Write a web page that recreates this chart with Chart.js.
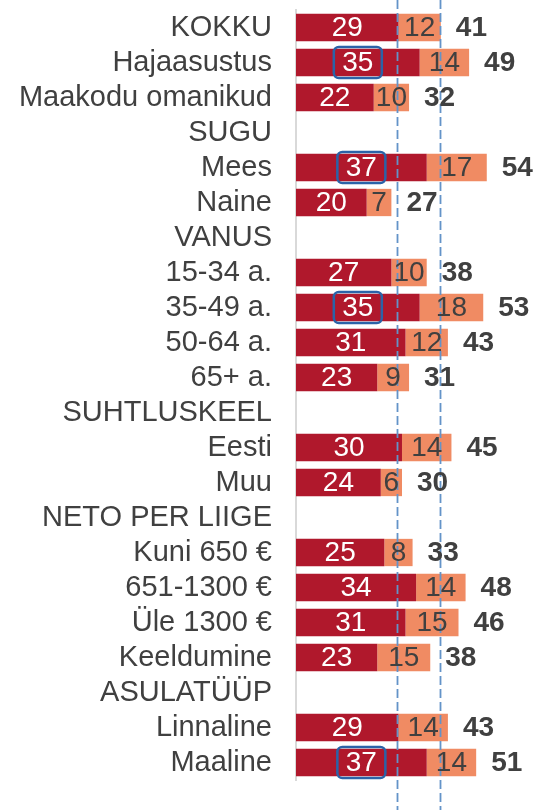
<!DOCTYPE html>
<html>
<head>
<meta charset="utf-8">
<script src="https://cdn.jsdelivr.net/npm/chart.js@4/dist/chart.umd.min.js"></script>
<style>
body{margin:0;background:#fff;}
#wrap{width:538px;height:810px;position:relative;}
</style>
</head>
<body>
<div id="wrap"><canvas id="chart"></canvas></div>
<script>
const categories=["KOKKU","Hajaasustus","Maakodu omanikud","SUGU","Mees","Naine","VANUS","15-34 a.","35-49 a.","50-64 a.","65+ a.","SUHTLUSKEEL","Eesti","Muu","NETO PER LIIGE","Kuni 650 €","651-1300 €","Üle 1300 €","Keeldumine","ASULATÜÜP","Linnaline","Maaline"];
const mainValues=[29,35,22,null,37,20,null,27,35,31,23,null,30,24,null,25,34,31,23,null,29,37];
const extraValues=[12,14,10,null,17,7,null,10,18,12,9,null,14,6,null,8,14,15,15,null,14,14];
const totals=[41,49,32,null,54,27,null,38,53,43,31,null,45,30,null,33,48,46,38,null,43,51];
const referenceLines=[29,41];
const highlighted=["Hajaasustus","Mees","35-49 a.","Maaline"];

const RED="#b0182c";
const ORANGE="#f08b63";
const TEXT="#404040";
const FONT="'Liberation Sans', Arial, sans-serif";

const overlay={
id:"overlay",
afterDatasetsDraw(chart){
const ctx=chart.ctx;
const x=chart.scales.x;

// reference lines
ctx.save();
ctx.strokeStyle="#6393c8";
ctx.lineWidth=1.8;
ctx.setLineDash([9,4]);
referenceLines.forEach(v=>{
let px=Math.round(x.getPixelForValue(v))-0.5;
ctx.beginPath();
ctx.moveTo(px,0);
ctx.lineTo(px,chart.height);
ctx.stroke();
});
ctx.restore();

// segment labels
ctx.save();
ctx.font="28px "+FONT;
ctx.textAlign="center";
ctx.textBaseline="middle";
chart.data.datasets.forEach((ds,di)=>{
let meta=chart.getDatasetMeta(di);
meta.data.forEach((bar,i)=>{
let v=ds.data[i];
if(v==null) return;
ctx.fillStyle=di===0?"#ffffff":TEXT;
ctx.fillText(v,(bar.x+bar.base)/2,bar.y+1);
});
});

// highlight boxes
let m0=chart.getDatasetMeta(0);
ctx.strokeStyle="#2b63a8";
ctx.lineWidth=2.5;
highlighted.forEach(name=>{
let i=categories.indexOf(name);
let bar=m0.data[i];
let cx=(bar.x+bar.base)/2;
ctx.beginPath();
ctx.roundRect(cx-24,bar.y-15.5,48,31,5);
ctx.stroke();
});

// totals
let m1=chart.getDatasetMeta(1);
ctx.font="bold 28px "+FONT;
ctx.textAlign="left";
ctx.fillStyle=TEXT;
totals.forEach((t,i)=>{
if(t==null) return;
let bar=m1.data[i];
ctx.fillText(t,bar.x+15,bar.y+1);
});
ctx.restore();
}
};

new Chart(document.getElementById("chart"),{
type:"bar",
data:{
labels:categories,
datasets:[
{data:mainValues,backgroundColor:RED,barPercentage:0.78,categoryPercentage:1},
{data:extraValues,backgroundColor:ORANGE,barPercentage:0.78,categoryPercentage:1}
]
},
options:{
indexAxis:"y",
responsive:true,
maintainAspectRatio:false,
animation:false,
layout:{padding:{top:10,bottom:30,right:0,left:0}},
plugins:{legend:{display:false},tooltip:{enabled:false}},
scales:{
x:{stacked:true,display:false,min:0,max:68.5},
y:{
stacked:true,
grid:{display:false,drawTicks:false},
border:{display:true,color:"#d9d9d9",width:2},
ticks:{color:TEXT,padding:24,font:{family:FONT,size:29},autoSkip:false},
afterFit(scale){
scale.width=296;
scale.paddingTop=0;
scale.paddingBottom=0;
}
}
}
},
plugins:[overlay]
});
</script>
</body>
</html>
